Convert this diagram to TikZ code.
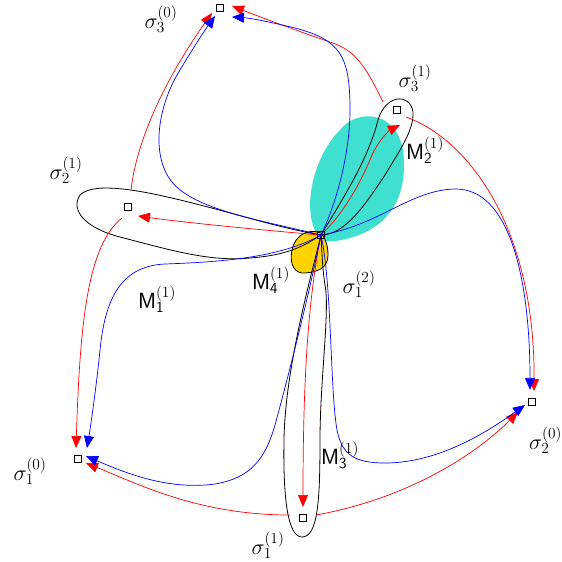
\RequirePackage{fix-cm}
\documentclass[tikz,border=0pt]{standalone}
\usetikzlibrary{arrows.meta,calc}
\definecolor{turq}{RGB}{64,224,208}
\definecolor{gold}{RGB}{255,212,0}
\begin{document}
\begin{tikzpicture}[x=1pt,y=-1pt]
\tikzset{
 sq/.style={draw, line width=0.8pt, minimum size=7pt, inner sep=0pt, fill=white},
 sqc/.style={draw, line width=0.8pt, minimum size=7pt, inner sep=0pt},
 redarr/.style={draw=red, line width=0.7pt, -{Triangle[length=12pt,width=10pt]}},
 bluearr/.style={draw=blue, line width=0.7pt, -{Triangle[length=12pt,width=10pt]}},
 loopline/.style={draw=black, line width=0.8pt},
 lbl/.style={inner sep=0pt, font=\fontsize{22}{26}\selectfont}
}
\useasboundingbox (0,0) rectangle (562,562);
\coordinate (c0) at (321,235);
% blobs
\fill[turq] (322,240) .. controls (300,220) and (310,160) .. (340,130) .. controls (355,110) and (395,108) .. (403,150) .. controls (408,190) and (395,225) .. (350,238) .. controls (335,242) and (326,242) .. cycle;
\filldraw[fill=gold, draw=black, line width=0.8pt] (321,233) .. controls (308,228) and (295,235) .. (292,250) .. controls (289,265) and (295,274) .. (305,273) .. controls (318,272) and (328,268) .. (328,255) .. controls (328,245) and (325,238) .. cycle;
% loops
\draw[loopline] (c0) .. controls (342,200) and (368,160) .. (378,120) .. controls (385,95) and (410,92) .. (413,112) .. controls (414,130) and (400,150) .. (385,175) .. controls (365,205) and (345,235) .. (c0);
\draw[loopline] (c0) .. controls (280,228) and (240,215) .. (200,205) .. controls (150,192) and (95,180) .. (80,195) .. controls (70,210) and (85,228) .. (120,237) .. controls (170,250) and (210,262) .. (250,258) .. controls (290,255) and (305,245) .. (c0);
\draw[loopline] (c0) .. controls (310,280) and (285,370) .. (284,440) .. controls (283,500) and (288,537) .. (302,537) .. controls (318,537) and (320,500) .. (320,440) .. controls (320,380) and (330,310) .. (325,285) .. controls (322,265) and (322,250) .. (c0);
% nodes
\node[sqc] (c) at (c0) {};
\node[sq] (s30) at (220,8) {};
\node[sq] (s31) at (397,110) {};
\node[sq] (s21) at (128,207) {};
\node[sq] (s10) at (78,459) {};
\node[sq] (s11) at (303,518) {};
\node[sq] (s20) at (532,402) {};
% arrow ends and starts
\coordinate (tR1) at (400,125);
\coordinate (tR2) at (138,216);
\coordinate (tR3) at (303,507);
\coordinate (tR4) at (232,6);
\coordinate (tR5) at (534,391);
\coordinate (tR6) at (212,13);
\coordinate (tR7) at (76,448);
\coordinate (tR8) at (86,463);
\coordinate (tR9) at (518,412);
\coordinate (tB1) at (232,17);
\coordinate (tB2) at (215,16);
\coordinate (tB3) at (87,448);
\coordinate (tB4) at (86,456);
\coordinate (tB5) at (530,390);
\coordinate (tB6) at (525,405);
\coordinate (a4) at (383,102);
\coordinate (a5) at (406,117);
\coordinate (a6) at (131,190);
\coordinate (a7) at (122,218);
\coordinate (a8) at (290,515);
\coordinate (a9) at (316,515);
% red arrows
\draw[redarr] (c0) .. controls (345,212) and (362,180) .. (372,155) .. controls (380,138) and (390,130) .. (tR1);
\draw[redarr] (c0) .. controls (260,230) and (180,222) .. (tR2);
\draw[redarr] (c0) .. controls (308,300) and (303,380) .. (tR3);
\draw[redarr] (a4) .. controls (365,65) and (355,50) .. (330,42) .. controls (300,32) and (255,15) .. (tR4);
\draw[redarr] (a5) .. controls (470,140) and (535,230) .. (tR5);
\draw[redarr] (a6) .. controls (138,130) and (175,65) .. (tR6);
\draw[redarr] (a7) .. controls (88,245) and (80,320) .. (tR7);
\draw[redarr] (a8) .. controls (200,515) and (140,485) .. (tR8);
\draw[redarr] (a9) .. controls (400,500) and (470,460) .. (tR9);
% blue arrows
\draw[bluearr] (c0) .. controls (338,200) and (350,150) .. (350,110) .. controls (350,55) and (340,40) .. (295,28) .. controls (270,22) and (250,18) .. (tB1);
\draw[bluearr] (c0) .. controls (260,220) and (195,210) .. (172,182) .. controls (150,155) and (158,105) .. (180,70) .. controls (195,45) and (205,30) .. (tB2);
\draw[bluearr] (c0) .. controls (280,258) and (220,262) .. (165,264) .. controls (120,266) and (105,300) .. (100,350) .. controls (96,390) and (90,430) .. (tB3);
\draw[bluearr] (c0) .. controls (310,290) and (290,370) .. (275,425) .. controls (265,460) and (250,478) .. (215,484) .. controls (170,490) and (130,475) .. (tB4);
\draw[bluearr] (c0) .. controls (380,225) and (410,190) .. (455,189) .. controls (510,188) and (530,280) .. (tB5);
\draw[bluearr] (c0) .. controls (332,285) and (330,390) .. (337,430) .. controls (342,455) and (355,463) .. (385,463) .. controls (440,463) and (490,430) .. (tB6);
\node[sqc] at (c0) {};
% labels
\node[lbl] (l30) at (161,19) {$\sigma_3^{(0)}$};
\node[lbl] (l31) at (415,78) {$\sigma_3^{(1)}$};
\node[lbl] (lM2) at (425,150) {$\mathsf{M}_{\mathsf{2}}^{(1)}$};
\node[lbl] (l21) at (66,170) {$\sigma_2^{(1)}$};
\node[lbl] (lM1) at (157,299) {$\mathsf{M}_{\mathsf{1}}^{(1)}$};
\node[lbl] (lM4) at (271,280) {$\mathsf{M}_{\mathsf{4}}^{(1)}$};
\node[lbl] (l12) at (359,284) {$\sigma_1^{(2)}$};
\node[lbl] (lM3) at (340,455) {$\mathsf{M}_{\mathsf{3}}^{(1)}$};
\node[lbl] (l10) at (30,471) {$\sigma_1^{(0)}$};
\node[lbl] (l11) at (268,545) {$\sigma_1^{(1)}$};
\node[lbl, anchor=west] (l20) at (529,440) {$\sigma_2^{(0)}$};
\end{tikzpicture}
\end{document}
